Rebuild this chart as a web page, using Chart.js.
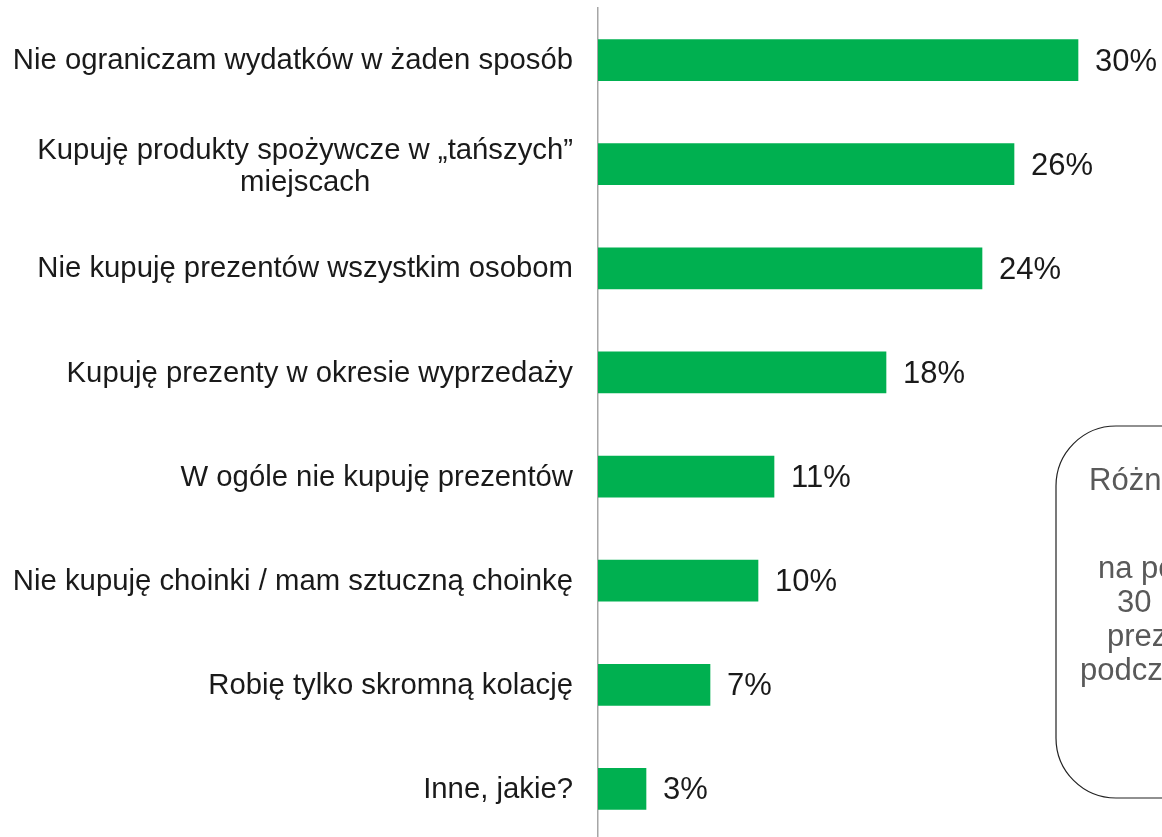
<!DOCTYPE html>
<html>
<head>
<meta charset="utf-8">
<script src="https://cdn.jsdelivr.net/npm/chart.js@4.4.1/dist/chart.umd.min.js"></script>
<style>
  html, body { margin: 0; padding: 0; background: #fff; overflow: hidden; }
  #wrap { position: relative; width: 1162px; height: 841px; }
</style>
</head>
<body>
<div id="wrap"><canvas id="chart"></canvas></div>
<script>
const categories = [
  "Nie ograniczam wydatków w żaden sposób",
  ["Kupuję produkty spożywcze w „tańszych”", "miejscach"],
  "Nie kupuję prezentów wszystkim osobom",
  "Kupuję prezenty w okresie wyprzedaży",
  "W ogóle nie kupuję prezentów",
  "Nie kupuję choinki / mam sztuczną choinkę",
  "Robię tylko skromną kolację",
  "Inne, jakie?"
];
const shares = [30, 26, 24, 18, 11, 10, 7, 3];
const noteLines = ["Różnice", "na poziomie", "30 proc.", "prezentów", "podczas"];

const FONT = '"Liberation Sans", Arial, sans-serif';

// category labels: block right-aligned, lines centred within the block
const labelPlugin = {
  id: "labels",
  afterDraw(chart) {
    const { ctx, chartArea } = chart;
    const ys = chart.scales.y;
    ctx.save();
    ctx.font = "29.3px " + FONT;
    ctx.fillStyle = "#1a1a1a";
    ctx.textAlign = "center";
    ctx.textBaseline = "middle";
    categories.forEach((lab, i) => {
      const lines = Array.isArray(lab) ? lab : [lab];
      const maxW = Math.max(...lines.map((l) => ctx.measureText(l).width));
      const right = chartArea.left - 25;
      const y = ys.getPixelForTick(i) + (lines.length > 1 ? 3 : 1);
      lines.forEach((l, j) => {
        ctx.fillText(l, right - maxW / 2, y + (j - (lines.length - 1) / 2) * 32);
      });
    });
    ctx.restore();
  },
};

const valuePlugin = {
  id: "values",
  afterDatasetsDraw(chart) {
    const { ctx } = chart;
    const meta = chart.getDatasetMeta(0);
    ctx.save();
    ctx.font = "31px " + FONT;
    ctx.fillStyle = "#1a1a1a";
    ctx.textAlign = "left";
    ctx.textBaseline = "middle";
    meta.data.forEach((bar, i) => {
      ctx.fillText(shares[i] + "%", bar.x + 17, bar.y + 2);
    });
    ctx.restore();
  },
};

// rounded callout box, cut off by the right edge
const notePlugin = {
  id: "note",
  afterDraw(chart) {
    const { ctx } = chart;
    const x = 1056, y = 426, w = 400, h = 372, r = 60;
    ctx.save();
    ctx.beginPath();
    ctx.moveTo(x + r, y);
    ctx.lineTo(x + w - r, y);
    ctx.arcTo(x + w, y, x + w, y + r, r);
    ctx.lineTo(x + w, y + h - r);
    ctx.arcTo(x + w, y + h, x + w - r, y + h, r);
    ctx.lineTo(x + r, y + h);
    ctx.arcTo(x, y + h, x, y + h - r, r);
    ctx.lineTo(x, y + r);
    ctx.arcTo(x, y, x + r, y, r);
    ctx.closePath();
    ctx.fillStyle = "#fff";
    ctx.fill();
    ctx.strokeStyle = "#222";
    ctx.lineWidth = 1.2;
    ctx.stroke();

    ctx.font = "31px " + FONT;
    ctx.fillStyle = "#595959";
    ctx.textAlign = "left";
    ctx.textBaseline = "alphabetic";
    const pos = [[1089, 490], [1098, 578], [1117, 612], [1107, 646], [1080, 680]];
    noteLines.forEach((t, i) => ctx.fillText(t, pos[i][0], pos[i][1]));
    ctx.restore();
  },
};

new Chart(document.getElementById("chart"), {
  type: "bar",
  data: {
    labels: categories,
    datasets: [{ data: shares, backgroundColor: "#00B050", barThickness: 41 }],
  },
  options: {
    indexAxis: "y",
    responsive: true,
    maintainAspectRatio: false,
    animation: false,
    layout: { padding: { top: 8, right: 4, left: 0, bottom: 0 } },
    plugins: { legend: { display: false }, tooltip: { enabled: false } },
    scales: {
      x: { min: 0, max: 35, display: false },
      y: {
        grid: { display: false },
        border: { display: true, color: "#A6A6A6", width: 1.5 },
        ticks: { display: false },
        afterFit(scale) { scale.width = 598; },
      },
    },
  },
  plugins: [labelPlugin, valuePlugin, notePlugin],
});
</script>
</body>
</html>
